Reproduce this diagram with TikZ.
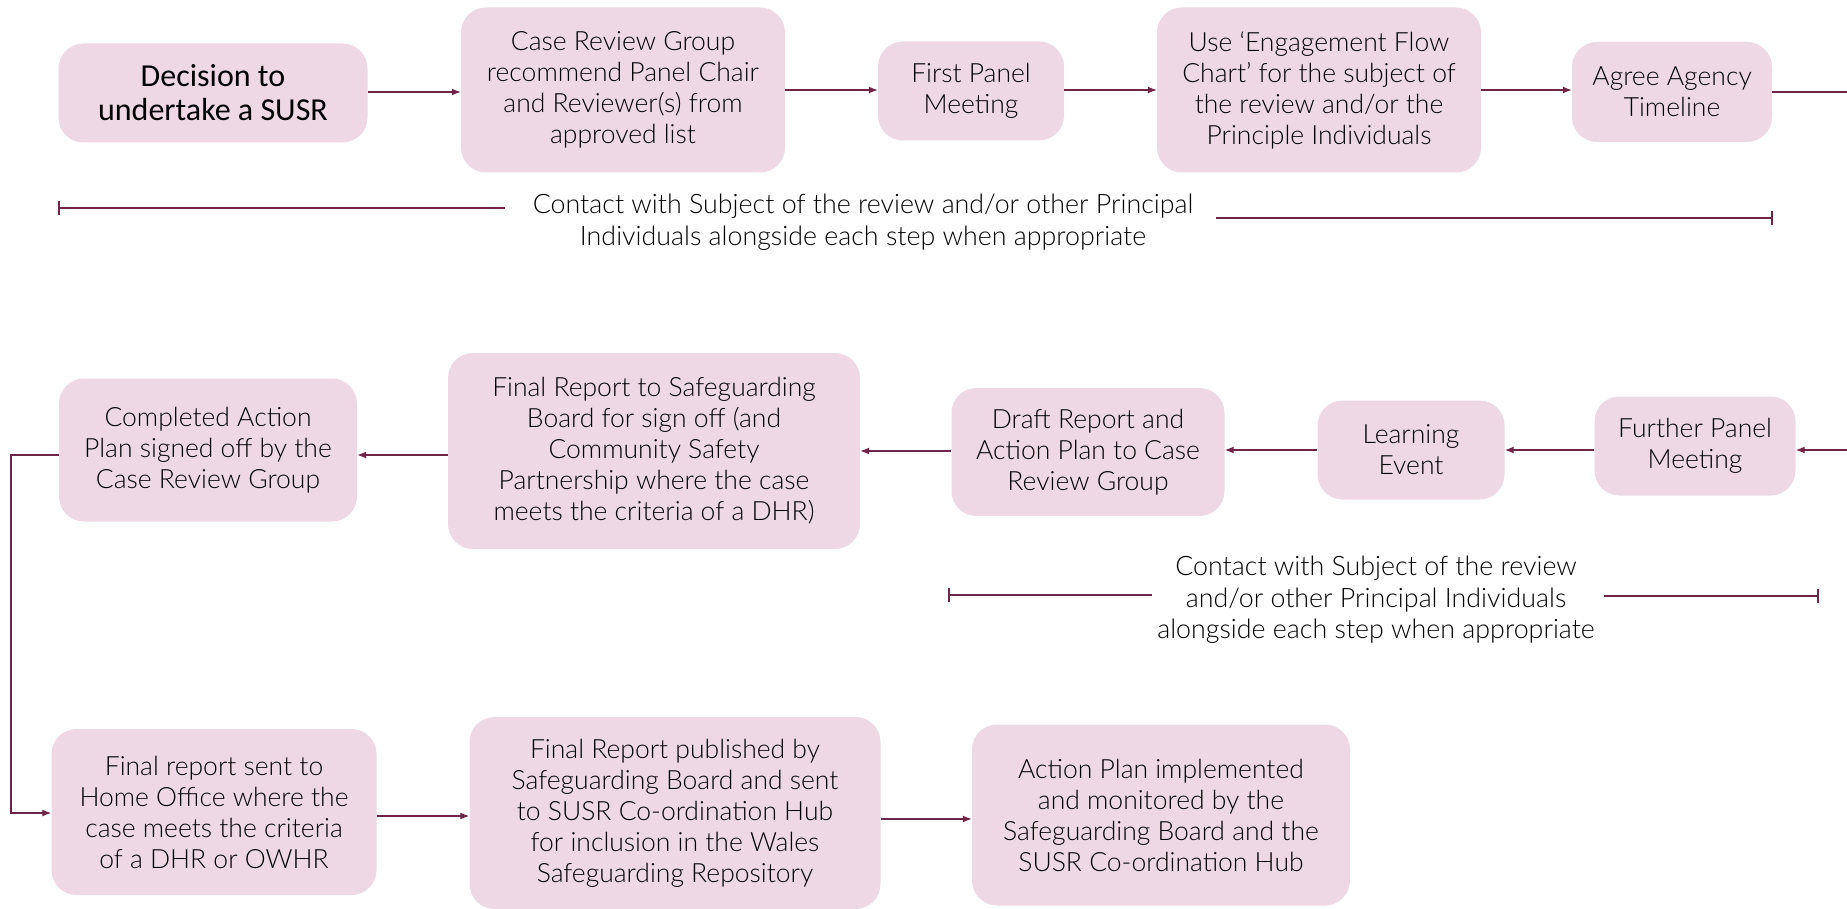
\documentclass[tikz,border=0pt]{standalone}
\usepackage{fontspec}
\setmainfont{Lato Light}
\newfontfamily\headfont{Carlito}
\usetikzlibrary{arrows.meta}
\definecolor{boxpink}{RGB}{237,216,228}
\definecolor{linemaroon}{RGB}{112,36,72}
\tikzset{
	stepbox/.style={fill=boxpink, rounded corners=25pt, align=center, inner sep=0pt,
		font=\fontsize{26.5}{31}\selectfont},
	flow/.style={draw=linemaroon, line width=1.3pt, -{Latex[length=9pt,width=7pt]}},
	bare/.style={draw=linemaroon, line width=1.6pt},
	note/.style={align=center, inner sep=0pt, font=\fontsize{26.8}{31.5}\selectfont}
}
\begin{document}
\begin{tikzpicture}[x=1pt, y=1pt]
		\useasboundingbox ( 0, 0 ) rectangle ( 1847, -909 );

		% first row
		\node [stepbox, minimum width=309, minimum height=99, font=\headfont\fontsize{32}{34}\selectfont] (decision) at ( 213, -93 ) {Decision to\\undertake a SUSR};
		\node [stepbox, minimum width=324, minimum height=165] (crg) at ( 623, -90 ) {Case Review Group\\recommend Panel Chair\\and Reviewer(s) from\\approved list};
		\node [stepbox, minimum width=186, minimum height=99] (firstpanel) at ( 971, -91 ) {First Panel\\Meeting};
		\node [stepbox, minimum width=324, minimum height=165] (engage) at ( 1319, -90 ) {Use ‘Engagement Flow\\Chart’ for the subject of\\the review and/or the\\Principle Individuals};
		\node [stepbox, minimum width=200, minimum height=100] (timeline) at ( 1672, -92 ) {Agree Agency\\Timeline};
		\coordinate (rightout) at ( 1847, -92 );

		\draw [flow] (decision.east |- 0,-92) -- (crg.west |- 0,-92);
		\draw [flow] (crg.east |- 0,-90) -- (firstpanel.west |- 0,-90);
		\draw [flow] (firstpanel.east |- 0,-90) -- (engage.west |- 0,-90);
		\draw [flow] (engage.east |- 0,-90) -- (timeline.west |- 0,-90);
		\draw [bare] (timeline.east) -- (rightout);

		% contact note, first row
		\node [note] (contactA) at ( 863, -222 ) {Contact with Subject of the review and/or other Principal\\Individuals alongside each step when appropriate};
		\coordinate (contactAleft) at ( 58, -208 );
		\coordinate (contactAmid) at ( 505, -208 );
		\coordinate (contactAgap) at ( 1216, -218 );
		\coordinate (contactAright) at ( 1773, -218 );
		\draw [bare, {Bar[width=14pt]}-] (contactAleft) -- (contactAmid);
		\draw [bare, -{Bar[width=14pt]}] (contactAgap) -- (contactAright);

		% second row
		\node [stepbox, minimum width=298, minimum height=143] (completed) at ( 208, -450 ) {Completed Action\\Plan signed off by the\\Case Review Group};
		\node [stepbox, minimum width=412, minimum height=196] (signoff) at ( 654, -451 ) {Final Report to Safeguarding\\Board for sign off (and\\Community Safety\\Partnership where the case\\meets the criteria of a DHR)};
		\node [stepbox, minimum width=273, minimum height=128] (draft) at ( 1088, -452 ) {Draft Report and\\Action Plan to Case\\Review Group};
		\node [stepbox, minimum width=187, minimum height=99] (learning) at ( 1411, -450 ) {Learning\\Event};
		\node [stepbox, minimum width=201, minimum height=99] (further) at ( 1695, -446 ) {Further Panel\\Meeting};
		\coordinate (rightin) at ( 1847, -450 );

		\draw [flow] (rightin) -- (further.east |- 0,-450);
		\draw [flow] (further.west |- 0,-450) -- (learning.east |- 0,-450);
		\draw [flow] (learning.west |- 0,-450) -- (draft.east |- 0,-450);
		\draw [flow] (draft.west |- 0,-451) -- (signoff.east |- 0,-451);
		\draw [flow] (signoff.west |- 0,-455) -- (completed.east |- 0,-455);

		% contact note, second row
		\node [note] (contactB) at ( 1376, -600 ) {Contact with Subject of the review\\and/or other Principal Individuals\\alongside each step when appropriate};
		\coordinate (contactBleft) at ( 948, -595 );
		\coordinate (contactBmid) at ( 1152, -595 );
		\coordinate (contactBgap) at ( 1604, -596 );
		\coordinate (contactBright) at ( 1819, -596 );
		\draw [bare, {Bar[width=14pt]}-] (contactBleft) -- (contactBmid);
		\draw [bare, -{Bar[width=14pt]}] (contactBgap) -- (contactBright);

		% third row
		\node [stepbox, minimum width=325, minimum height=166] (homeoffice) at ( 214, -812 ) {Final report sent to\\Home Office where the\\case meets the criteria\\of a DHR or OWHR};
		\node [stepbox, minimum width=411, minimum height=192] (published) at ( 675, -813 ) {Final Report published by\\Safeguarding Board and sent\\to SUSR Co-ordination Hub\\for inclusion in the Wales\\Safeguarding Repository};
		\node [stepbox, minimum width=378, minimum height=181] (implemented) at ( 1161, -815 ) {Action Plan implemented\\and monitored by the\\Safeguarding Board and the\\SUSR Co-ordination Hub};

		\draw [flow] (completed.west |- 0,-455) -- ( 11, -455 ) |- (homeoffice.west |- 0,-813);
		\draw [flow] (homeoffice.east |- 0,-816) -- (published.west |- 0,-816);
		\draw [flow] (published.east |- 0,-819) -- (implemented.west |- 0,-819);
	\end{tikzpicture}
\end{document}
